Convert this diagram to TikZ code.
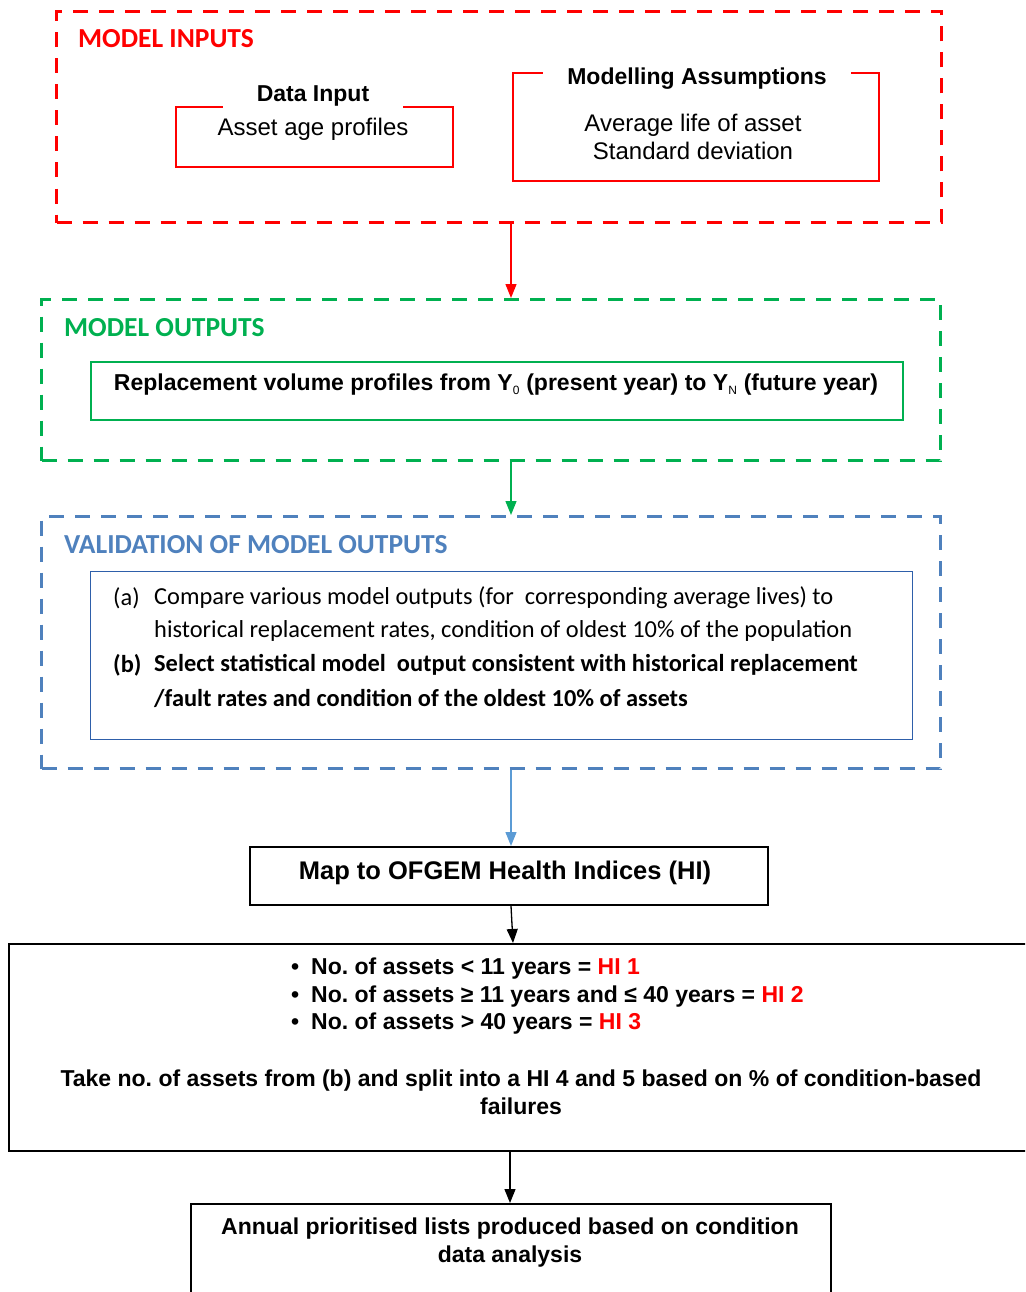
\documentclass[tikz,border=0pt]{standalone}
\usepackage{fontspec}
\setmainfont{Liberation Sans}
\newfontfamily\calibri{Carlito}
\usetikzlibrary{arrows.meta,calc}
\definecolor{rd}{RGB}{255,0,0}
\definecolor{gn}{RGB}{0,176,80}
\definecolor{bl}{RGB}{79,129,189}
\definecolor{bla}{RGB}{91,155,213}
\definecolor{bli}{RGB}{46,95,170}
\newcommand{\lowsub}[1]{\textsubscript{\normalfont\fontsize{12}{12}\selectfont #1}}
\tikzset{
  dashbox/.style={draw=#1, line width=3pt, dash pattern=on 15pt off 11pt, anchor=north west, inner sep=0pt},
  solidbox/.style={draw=#1, anchor=north west, inner sep=0pt},
  hd/.style={font=\calibri\bfseries\fontsize{27.5}{30}\selectfont, text=#1, anchor=west, inner sep=0pt},
  ttl/.style={font=\bfseries\fontsize{23}{27}\selectfont, fill=white, inner ysep=2pt},
  reg/.style={font=\fontsize{24}{28}\selectfont, align=center, inner sep=0pt},
  nar/.style={font=\bfseries\fontsize{23}{28}\selectfont, align=center, inner sep=0pt},
  cal/.style={font=\calibri\fontsize{24.4}{28}\selectfont, anchor=west, inner sep=0pt},
  calb/.style={font=\calibri\bfseries\fontsize{24.4}{28}\selectfont, anchor=west, inner sep=0pt},
  arr/.style={draw=#1, line width=1.3pt, -{Triangle[width=11pt,length=14pt]}, fill=#1},
}
\begin{document}
\begin{tikzpicture}[x=1pt,y=-1pt]
\useasboundingbox (0,0) rectangle (1025,1292);
\clip (0,0) rectangle (1025,1292);
\coordinate (ax) at (511,0);
\coordinate (bx) at (510,0);
% MODEL INPUTS
\node[dashbox=rd, minimum width=885, minimum height=211] (inputs) at (55,10) {};
\node[hd=rd] (inh) at (78,39) {MODEL INPUTS};
\node[solidbox=rd, line width=2.2pt, minimum width=277, minimum height=60] (datain) at (175,106) {};
\node[ttl, inner xsep=34pt] (dit) at (313,96) {Data Input};
\node[reg] (dib) at (313,129) {Asset age profiles};
\node[solidbox=rd, line width=2.2pt, minimum width=366, minimum height=108] (assum) at (512,72) {};
\node[ttl, inner xsep=24pt] (ast) at (697,79) {Modelling Assumptions};
\node[reg] (asb) at (693,137) {Average life of asset\\Standard deviation};
% MODEL OUTPUTS
\node[dashbox=gn, minimum width=899, minimum height=161] (outputs) at (40,298) {};
\node[hd=gn] (outh) at (64,328) {MODEL OUTPUTS};
\node[solidbox=gn, line width=1.6pt, minimum width=812, minimum height=58] (repl) at (90,361) {};
\node[nar] (replt) at (496,385) {Replacement volume profiles from Y\lowsub{0} (present year) to Y\lowsub{N} (future year)};
% VALIDATION
\node[dashbox=bl, minimum width=899, minimum height=252] (valid) at (40,515) {};
\node[hd=bl] (valh) at (64,545) {VALIDATION OF MODEL OUTPUTS};
\node[solidbox=bli, line width=1.2pt, minimum width=822, minimum height=168] (valbox) at (90,571) {};
\node[cal] (la) at (113,598) {(a)};
\node[cal] (l1) at (154,598) {Compare various model outputs (for\ \ corresponding average lives) to};
\node[cal] (l2) at (154,631) {historical replacement rates, condition of oldest 10\% of the population};
\node[calb] (lb) at (113,665) {(b)};
\node[calb] (l3) at (154,665) {Select statistical model\ \ output consistent with historical replacement};
\node[calb] (l4) at (154,698) {/fault rates and condition of the oldest 10\% of assets};
% MAP
\node[solidbox=black, line width=2pt, minimum width=518, minimum height=58] (map) at (249,846) {};
\node[nar, font=\bfseries\fontsize{25.5}{30}\selectfont] (mapt) at (505,873) {Map to OFGEM Health Indices (HI)};
% HI box
\node[solidbox=black, line width=2pt, minimum width=1026, minimum height=207] (hi) at (8,943) {};
\node[nar, anchor=west] (b1) at (291,969) {\textbullet\hspace{12pt}No.\ of assets < 11 years = \textcolor{rd}{HI 1}};
\node[nar, anchor=west] (b2) at (291,997) {\textbullet\hspace{12pt}No.\ of assets ≥ 11 years and ≤ 40 years = \textcolor{rd}{HI 2}};
\node[nar, anchor=west] (b3) at (291,1024) {\textbullet\hspace{12pt}No.\ of assets > 40 years = \textcolor{rd}{HI 3}};
\node[nar] (take) at (521,1092) {Take no.\ of assets from (b) and split into a HI 4 and 5 based on \% of condition-based\\failures};
% Annual
\node[solidbox=black, line width=2pt, minimum width=640, minimum height=110] (annual) at (190,1203) {};
\node[nar] (annt) at (510,1243) {Annual prioritised lists produced based on condition\\data analysis};
% arrows
\draw[arr=rd] (inputs.south -| ax) -- (outputs.north -| ax);
\draw[arr=gn] (outputs.south -| ax) -- (valid.north -| ax);
\draw[arr=bla] (valid.south -| ax) -- (map.north -| ax);
\draw[arr=black] (map.south -| ax) -- ($(hi.north -| ax)+(2,0)$);
\draw[arr=black] (hi.south -| bx) -- (annual.north -| bx);
\end{tikzpicture}
\end{document}
